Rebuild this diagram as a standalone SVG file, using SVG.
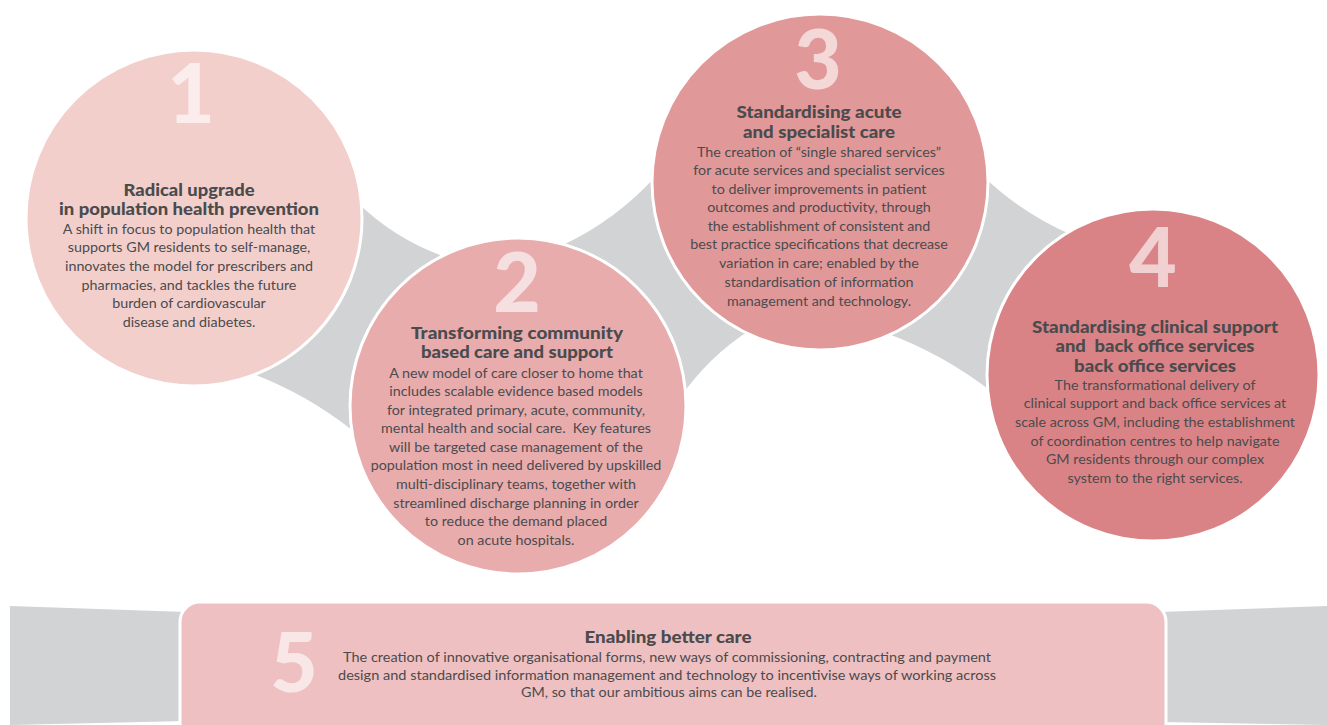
<svg xmlns="http://www.w3.org/2000/svg" width="1327" height="725" viewBox="0 0 1327 725">
<style>
.conn{fill:#d1d3d4;stroke:none}
.node{stroke:#ffffff;stroke-width:3}
.num{font-family:Lato,"Open Sans",sans-serif;font-weight:900;font-size:82px;fill:#ffffff;fill-opacity:0.62;text-anchor:middle}
.ttl{font-family:Lato,"Open Sans",sans-serif;font-weight:900;font-size:16px;fill:#4b4b4d;text-anchor:middle}
.body{font-family:Lato,"Open Sans",sans-serif;font-weight:400;font-size:14.3px;fill:#4b4b4d;text-anchor:middle}
</style>
<rect width="1327" height="725" fill="#ffffff"/>
<g id="connectors">
<path class="conn" d="M360,205 Q395,238 440,255 L352,430 Q305,393 248,372 Z"/>
<path class="conn" d="M563,245 Q616,220 656,176 L750,330 Q708,357 680,398 Z"/>
<path class="conn" d="M982,175 Q1021,213 1072,235 L992,392 Q942,353 883,332 Z"/>
<path class="conn" d="M10,606 L186,612 L186,721 L10,725 Z"/>
<path class="conn" d="M1160,612 L1327,606 L1327,725 L1160,722 Z"/>
</g>
<g id="node1">
<circle class="node" cx="194" cy="218" r="168" fill="#f3cfcc"/>
<text class="num" x="191" y="123">1</text>
<text class="ttl" x="189" y="195.5" textLength="131" lengthAdjust="spacingAndGlyphs">Radical upgrade</text>
<text class="ttl" x="189" y="215" textLength="260" lengthAdjust="spacingAndGlyphs">in population health prevention</text>
<text class="body" x="189" y="234">A shift in focus to population health that</text>
<text class="body" x="189" y="252">supports GM residents to self-manage,</text>
<text class="body" x="189" y="271">innovates the model for prescribers and</text>
<text class="body" x="189" y="290">pharmacies, and tackles the future</text>
<text class="body" x="189" y="308">burden of cardiovascular</text>
<text class="body" x="189" y="327">disease and diabetes.</text>
</g>
<g id="node2">
<circle class="node" cx="518" cy="406" r="168" fill="#e8acad"/>
<text class="num" x="517" y="312">2</text>
<text class="ttl" x="517" y="338.5" textLength="212" lengthAdjust="spacingAndGlyphs">Transforming community</text>
<text class="ttl" x="517" y="358" textLength="192" lengthAdjust="spacingAndGlyphs">based care and support</text>
<text class="body" x="516" y="378">A new model of care closer to home that</text>
<text class="body" x="516" y="396">includes scalable evidence based models</text>
<text class="body" x="516" y="415">for integrated primary, acute, community,</text>
<text class="body" x="516" y="433">mental health and social care.&#160; Key features</text>
<text class="body" x="516" y="452">will be targeted case management of the</text>
<text class="body" x="516" y="470">population most in need delivered by upskilled</text>
<text class="body" x="516" y="489">multi-disciplinary teams, together with</text>
<text class="body" x="516" y="508">streamlined discharge planning in order</text>
<text class="body" x="516" y="526">to reduce the demand placed</text>
<text class="body" x="516" y="545">on acute hospitals.</text>
</g>
<g id="node3">
<circle class="node" cx="820" cy="182" r="168" fill="#e19899"/>
<text class="num" x="818" y="89">3</text>
<text class="ttl" x="819" y="118" textLength="165" lengthAdjust="spacingAndGlyphs">Standardising acute</text>
<text class="ttl" x="819" y="137.5" textLength="152" lengthAdjust="spacingAndGlyphs">and specialist care</text>
<text class="body" x="819" y="157">The creation of “single shared services”</text>
<text class="body" x="819" y="175">for acute services and specialist services</text>
<text class="body" x="819" y="194">to deliver improvements in patient</text>
<text class="body" x="819" y="212">outcomes and productivity, through</text>
<text class="body" x="819" y="231">the establishment of consistent and</text>
<text class="body" x="819" y="249">best practice specifications that decrease</text>
<text class="body" x="819" y="268">variation in care; enabled by the</text>
<text class="body" x="819" y="287">standardisation of information</text>
<text class="body" x="819" y="306">management and technology.</text>
</g>
<g id="node4">
<circle class="node" cx="1153" cy="375" r="166" fill="#da8386"/>
<text class="num" x="1153" y="287">4</text>
<text class="ttl" x="1155" y="332.5" textLength="246" lengthAdjust="spacingAndGlyphs">Standardising clinical support</text>
<text class="ttl" x="1155" y="352" textLength="199" lengthAdjust="spacingAndGlyphs">and&#160; back office services</text>
<text class="ttl" x="1155" y="371.5" textLength="162" lengthAdjust="spacingAndGlyphs">back office services</text>
<text class="body" x="1155" y="390">The transformational delivery of</text>
<text class="body" x="1155" y="408">clinical support and back office services at</text>
<text class="body" x="1155" y="427">scale across GM, including the establishment</text>
<text class="body" x="1155" y="446">of coordination centres to help navigate</text>
<text class="body" x="1155" y="464">GM residents through our complex</text>
<text class="body" x="1155" y="483">system to the right services.</text>
</g>
<g id="node5">
<rect class="node" x="180" y="602" width="986" height="140" rx="20" fill="#efc0c1"/>
<text class="num" x="294" y="692">5</text>
<text class="ttl" x="668" y="643" textLength="167" lengthAdjust="spacingAndGlyphs">Enabling better care</text>
<text class="body" x="667" y="662" textLength="648" lengthAdjust="spacingAndGlyphs">The creation of innovative organisational forms, new ways of commissioning, contracting and payment</text>
<text class="body" x="667" y="680" textLength="658" lengthAdjust="spacingAndGlyphs">design and standardised information management and technology to incentivise ways of working across</text>
<text class="body" x="669" y="697" textLength="296" lengthAdjust="spacingAndGlyphs">GM, so that our ambitious aims can be realised.</text>
</g>
</svg>
